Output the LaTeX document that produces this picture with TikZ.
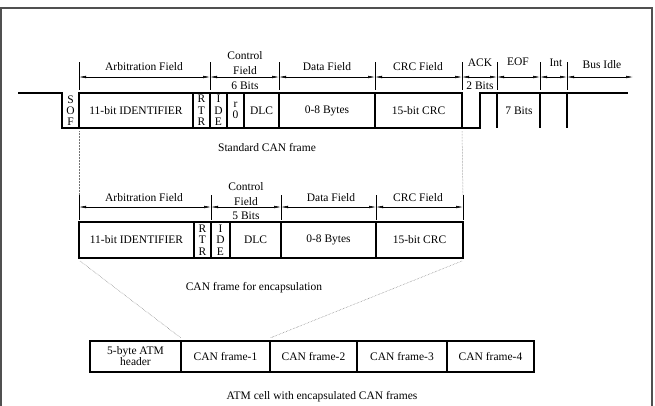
\documentclass[tikz,border=0pt]{standalone}
\usepackage{fontspec}
\setmainfont{Liberation Serif}
\usetikzlibrary{positioning,arrows.meta,calc}
\definecolor{rim}{RGB}{80,80,80}

\tikzset{
  field/.style={draw,line width=1.2pt,inner sep=0pt,outer sep=0pt,anchor=north west,
    minimum height=35pt,align=center},
  stack/.style={font=\fontsize{11.5}{11.3}\selectfont},
  dim/.style={{Latex[length=7pt,width=2.6pt]}-{Latex[length=7pt,width=2.6pt]},line width=0.5pt},
  tick/.style={line width=0.6pt},
  sig/.style={line width=1.2pt},
  guide/.style={densely dotted,black!55,line width=0.5pt},
}

\begin{document}
\begin{tikzpicture}[x=1pt,y=-1pt,every node/.style={font=\fontsize{11.5}{13}\selectfont}]
  \useasboundingbox (0,0) rectangle (655,405);
  \draw[rim,line width=1.3pt] (1,8) rectangle (652,412);

  % standard CAN frame
  \node[field,draw=none,minimum width=17pt,stack] (sof) at (62,93) {S\\O\\F};
  \node[field,minimum width=114pt] (id1) at (sof.north east) {11-bit IDENTIFIER};
  \node[field,minimum width=17pt,stack] (rtr1) at (id1.north east) {R\\T\\R};
  \node[field,minimum width=17pt,stack] (ide1) at (rtr1.north east) {I\\D\\E};
  \node[field,minimum width=17pt,stack] (rzero) at (ide1.north east) {r\\0};
  \node[field,minimum width=35pt] (dlc1) at (rzero.north east) {DLC};
  \node[field,minimum width=96pt] (data1) at (dlc1.north east) {0-8 Bytes};
  \node[field,minimum width=87pt] (crc1) at (data1.north east) {15-bit CRC};
  \draw[sig] (18,93) -- (sof.north west) -- (sof.south west) -- (sof.south east);
  \draw[sig] (crc1.south east) -- ++(18,0) coordinate (ackup)
    -- (ackup |- crc1.north east) -- (628,93);
  \foreach \x in {497,540,567} \draw[sig] (\x,93) -- (\x,128);
  \node (eofbits) at (519,111) {7 Bits};

  \foreach \x [count=\i] in {79,210,279,375,462,497,540,567} {
    \draw[tick] (\x,62) -- (\x,90);
    \coordinate (a\i) at (\x,77);
  }
  \coordinate (a9) at (633,77);
  \foreach \i/\j in {1/2,2/3,3/4,4/5,5/6,6/7,7/8,8/9} \draw[dim] (a\i) -- (a\j);
  \node (arb1) at (144,67) {Arbitration Field};
  \node (ctl1) at (245,56) {Control};
  \node (ctlf1) at (245,70.5) {Field};
  \node (bits1) at (245,86) {6 Bits};
  \node (dat1) at (327,67) {Data Field};
  \node (crcl1) at (418,67) {CRC Field};
  \node (ack) at (480,63) {ACK};
  \node (ackbits) at (480,86) {2 Bits};
  \node (eof) at (518,62) {EOF};
  \node (int) at (556,63) {Int};
  \node (idle) at (602,65) {Bus Idle};
  \node (std) at (267,148) {Standard CAN frame};

  % frame for encapsulation
  \node[field,minimum width=115pt,minimum height=36pt] (id2) at (79,222) {11-bit IDENTIFIER};
  \node[field,minimum width=17pt,minimum height=36pt,stack] (rtr2) at (id2.north east) {R\\T\\R};
  \node[field,minimum width=19pt,minimum height=36pt,stack] (ide2) at (rtr2.north east) {I\\D\\E};
  \node[field,minimum width=51pt,minimum height=36pt] (dlc2) at (ide2.north east) {DLC};
  \node[field,minimum width=95pt,minimum height=36pt] (data2) at (dlc2.north east) {0-8 Bytes};
  \node[field,minimum width=87pt,minimum height=36pt] (crc2) at (data2.north east) {15-bit CRC};

  \foreach \x [count=\i] in {79,211,281,376,463} {
    \draw[tick] (\x,195) -- (\x,220);
    \coordinate (b\i) at (\x,207);
  }
  \foreach \i/\j in {1/2,2/3,3/4,4/5} \draw[dim] (b\i) -- (b\j);
  \node (arb2) at (144,198) {Arbitration Field};
  \node (ctl2) at (246,187) {Control};
  \node (ctlf2) at (246,201.5) {Field};
  \node (bits2) at (246,216) {5 Bits};
  \node (dat2) at (331,198) {Data Field};
  \node (crcl2) at (418,198) {CRC Field};
  \node (enc) at (254,288) {CAN frame for encapsulation};

  \draw[guide] ($(id1.south west)+(0,3)$) -- (79,195);
  \draw[guide] ($(crc1.south east)+(0,3)$) -- (463,195);

  % ATM cell
  \node[field,minimum width=91pt,minimum height=31pt,font=\fontsize{11.5}{11}\selectfont]
    (hdr) at (90,341) {5-byte ATM\\header};
  \node[field,minimum width=89pt,minimum height=31pt] (f1) at (hdr.north east) {CAN frame-1};
  \node[field,minimum width=87pt,minimum height=31pt] (f2) at (f1.north east) {CAN frame-2};
  \node[field,minimum width=90pt,minimum height=31pt] (f3) at (f2.north east) {CAN frame-3};
  \node[field,minimum width=87pt,minimum height=31pt] (f4) at (f3.north east) {CAN frame-4};
  \node (atm) at (322,397) {ATM cell with encapsulated CAN frames};

  \draw[guide] ($(id2.south west)+(1,3)$) -- ($(hdr.north east)+(0,-3)$);
  \draw[guide] ($(crc2.south east)+(-1,3)$) -- ($(f1.north east)+(0,-3)$);
\end{tikzpicture}
\end{document}
